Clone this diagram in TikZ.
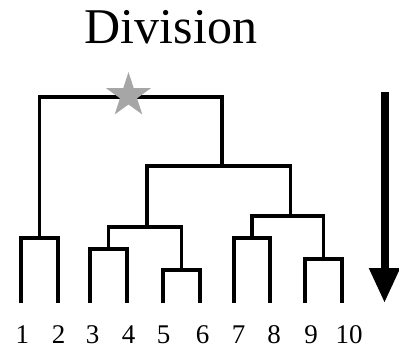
\documentclass[tikz,border=0pt]{standalone}
\usepackage{fontspec}
\setmainfont{Liberation Serif}
\usetikzlibrary{shapes.geometric,arrows.meta}
\definecolor{stargray}{RGB}{166,166,166}
\begin{document}
\begin{tikzpicture}[x=1pt,y=-1pt,
  branch/.style={line width=3.1pt,line join=miter,line cap=butt},
  leaflabel/.style={anchor=base,inner sep=0pt,text depth=0pt,font=\fontsize{27}{32}\selectfont},
  titlestyle/.style={anchor=base,inner sep=0pt,font=\fontsize{50}{60}\selectfont},
  starmark/.style={star,star points=5,star point ratio=2.618,fill=stargray,draw=none,minimum size=47pt,inner sep=0pt},
  bigarrow/.style={line width=8pt,-{Triangle[width=29pt,length=35pt]}}]
\useasboundingbox (0,0) rectangle (399,348);
% title
\node[titlestyle] (title) at (171,43) {Division};
% leaves
\coordinate (l1) at (21,303);
\coordinate (l2) at (58,303);
\coordinate (l3) at (90,303);
\coordinate (l4) at (127,303);
\coordinate (l5) at (163,303);
\coordinate (l6) at (200,303);
\coordinate (l7) at (234,303);
\coordinate (l8) at (270,303);
\coordinate (l9) at (305,303);
\coordinate (l10) at (342,303);
% internal nodes
\coordinate (c12) at (39.5,238);
\coordinate (c34) at (108.5,249);
\coordinate (c56) at (181.5,270);
\coordinate (c78) at (252,238);
\coordinate (c910) at (323.5,259);
\coordinate (c3456) at (147,227);
\coordinate (c78910) at (290.5,216);
\coordinate (c3to10) at (222,166);
\coordinate (root) at (130,97);
% branches
\draw[branch] (l1) |- (c12) -| (l2);
\draw[branch] (l3) |- (c34) -| (l4);
\draw[branch] (l5) |- (c56) -| (l6);
\draw[branch] (l7) |- (c78) -| (l8);
\draw[branch] (l9) |- (c910) -| (l10);
\draw[branch] (c34) |- (c3456) -| (c56);
\draw[branch] (c78) |- (c78910) -| (c910);
\draw[branch] (c3456) |- (c3to10) -| (c78910);
\draw[branch] (c12) |- (root) -| (c3to10);
% star
\node[starmark] (star) at (128.5,95.5) {};
% labels
\node[leaflabel] (n1) at (22.5,343) {1};
\node[leaflabel] (n2) at (58.5,343) {2};
\node[leaflabel] (n3) at (92.5,343) {3};
\node[leaflabel] (n4) at (128.5,343) {4};
\node[leaflabel] (n5) at (163.5,343) {5};
\node[leaflabel] (n6) at (202.5,343) {6};
\node[leaflabel] (n7) at (238.5,343) {7};
\node[leaflabel] (n8) at (274,343) {8};
\node[leaflabel] (n9) at (311,343) {9};
\node[leaflabel] (n10) at (349,343) {10};
% arrow
\coordinate (atop) at (384.5,92);
\coordinate (atip) at (384.5,303);
\draw[bigarrow] (atop) -- (atip);
\end{tikzpicture}
\end{document}
